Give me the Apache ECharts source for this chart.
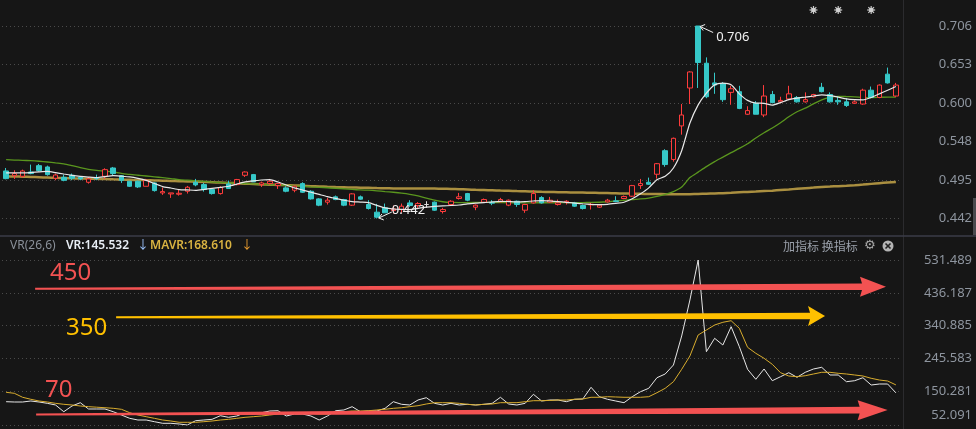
<!DOCTYPE html>
<html><head><meta charset="utf-8">
<script src="https://cdn.jsdelivr.net/npm/echarts@6/dist/echarts.min.js"></script>
<style>html,body{margin:0;padding:0;background:#161616;}#c{width:976px;height:429px;}</style>
</head><body><div id="c"></div>
<script>
// ---------- DATA ----------
const priceTicks = [0.442, 0.4948, 0.5476, 0.6004, 0.6532, 0.706];
const priceMin = 0.4180, priceMax = 0.7417;
const vrTicks = [52.091, 150.281, 245.583, 340.885, 436.187, 531.489];
const vrMin = 52.091, vrMax = 531.489;

// [open, close, low, high]
const ohlc = [
[0.5072,0.4967,0.4958,0.5113],[0.5008,0.5036,0.4963,0.5081],[0.4999,0.5072,0.4981,0.5090],[0.5058,0.5036,0.5027,0.5159],
[0.5145,0.5077,0.5063,0.5168],[0.5127,0.5022,0.5008,0.5145],[0.4972,0.5017,0.4945,0.5036],[0.4985,0.4944,0.4931,0.5022],
[0.5013,0.4972,0.4945,0.5036],[0.4985,0.4963,0.4945,0.4999],[0.4917,0.4963,0.4899,0.4990],[0.4981,0.4967,0.4945,0.5022],
[0.4999,0.5090,0.4963,0.5109],[0.5113,0.5036,0.5008,0.5127],[0.5008,0.4944,0.4908,0.5017],[0.4931,0.4862,0.4853,0.4931],
[0.4931,0.4853,0.4839,0.4940],[0.4862,0.4944,0.4862,0.4963],[0.4908,0.4803,0.4789,0.4917],[0.4771,0.4789,0.4744,0.4844],
[0.4757,0.4771,0.4703,0.4771],[0.4753,0.4766,0.4734,0.4826],[0.4794,0.4849,0.4762,0.4867],[0.4917,0.4881,0.4862,0.4963],
[0.4885,0.4817,0.4789,0.4908],[0.4817,0.4762,0.4748,0.4826],[0.4762,0.4844,0.4748,0.4862],[0.4894,0.4831,0.4831,0.4940],
[0.4885,0.4954,0.4876,0.4963],[0.5013,0.5058,0.4990,0.5067],[0.5022,0.4922,0.4922,0.5031],[0.4885,0.4908,0.4853,0.4926],
[0.4899,0.4931,0.4885,0.4963],[0.4872,0.4899,0.4826,0.4908],[0.4840,0.4794,0.4780,0.4862],[0.4808,0.4863,0.4780,0.4872],
[0.4899,0.4780,0.4771,0.4917],[0.4794,0.4689,0.4680,0.4808],[0.4689,0.4603,0.4589,0.4698],[0.4644,0.4671,0.4611,0.4703],
[0.4717,0.4680,0.4671,0.4735],[0.4680,0.4603,0.4589,0.4689],[0.4603,0.4758,0.4593,0.4767],[0.4717,0.4685,0.4676,0.4735],
[0.4612,0.4557,0.4543,0.4671],[0.4507,0.4438,0.4420,0.4621],[0.4566,0.4498,0.4498,0.4625],[0.4529,0.4552,0.4488,0.4598],
[0.4543,0.4589,0.4498,0.4625],[0.4634,0.4598,0.4580,0.4671],[0.4598,0.4625,0.4566,0.4644],[0.4612,0.4612,0.4566,0.4657],
[0.4644,0.4534,0.4525,0.4653],[0.4516,0.4543,0.4488,0.4566],[0.4612,0.4657,0.4598,0.4671],[0.4694,0.4717,0.4680,0.4771],
[0.4762,0.4671,0.4657,0.4771],[0.4575,0.4603,0.4534,0.4612],[0.4644,0.4680,0.4634,0.4694],[0.4639,0.4630,0.4603,0.4671],
[0.4648,0.4680,0.4644,0.4703],[0.4603,0.4671,0.4589,0.4680],[0.4657,0.4612,0.4580,0.4666],[0.4534,0.4612,0.4498,0.4621],
[0.4634,0.4762,0.4625,0.4807],[0.4707,0.4634,0.4625,0.4726],[0.4644,0.4671,0.4634,0.4716],[0.4612,0.4634,0.4598,0.4680],
[0.4644,0.4657,0.4612,0.4671],[0.4634,0.4589,0.4580,0.4648],[0.4598,0.4557,0.4543,0.4612],[0.4607,0.4616,0.4543,0.4634],
[0.4575,0.4603,0.4566,0.4612],[0.4648,0.4671,0.4639,0.4689],[0.4662,0.4653,0.4644,0.4726],[0.4694,0.4721,0.4685,0.4735],
[0.4726,0.4871,0.4717,0.4881],[0.4872,0.4899,0.4826,0.4963],[0.4917,0.4890,0.4881,0.4981],[0.5027,0.5172,0.4967,0.5181],
[0.535,0.516,0.513,0.537],[0.523,0.552,0.520,0.553],[0.569,0.584,0.557,0.599],[0.621,0.643,0.599,0.644],
[0.706,0.656,0.621,0.706],[0.655,0.609,0.607,0.663],[0.628,0.625,0.613,0.642],[0.627,0.605,0.602,0.629],
[0.615,0.620,0.598,0.624],[0.616,0.593,0.592,0.624],[0.585,0.590,0.584,0.596],[0.600,0.585,0.585,0.603],
[0.584,0.610,0.581,0.625],[0.612,0.601,0.600,0.617],[0.602,0.604,0.600,0.609],[0.606,0.613,0.605,0.624],
[0.608,0.602,0.601,0.610],[0.602,0.605,0.601,0.615],[0.609,0.612,0.608,0.613],[0.622,0.616,0.615,0.628],
[0.612,0.602,0.601,0.615],[0.604,0.602,0.598,0.609],[0.602,0.597,0.595,0.607],[0.600,0.602,0.599,0.604],
[0.599,0.618,0.598,0.620],[0.618,0.608,0.607,0.623],[0.608,0.625,0.607,0.626],[0.640,0.628,0.627,0.649],
[0.610,0.625,0.609,0.628]
];

const ma5 = [
0.5045,0.5045,0.5045,0.5050,0.5060,0.5067,0.5050,0.5030,0.5012,0.4998,0.4988,0.4980,0.4995,0.5008,0.5000,0.4990,
0.4970,0.4942,0.4900,0.4858,0.4838,0.4817,0.4812,0.4807,0.4818,0.4833,0.4848,0.4862,0.4892,0.4922,0.4935,0.4948,
0.4952,0.4920,0.4880,0.4840,0.4810,0.4780,0.4750,0.4720,0.4695,0.4670,0.4652,0.4645,0.4637,0.4600,0.4565,0.4550,
0.4545,0.4543,0.4560,0.4575,0.4585,0.4592,0.4598,0.4605,0.4620,0.4630,0.4637,0.4648,0.4656,0.4652,0.4648,0.4652,
0.4660,0.4666,0.4660,0.4652,0.4642,0.4630,0.4622,0.4615,0.4611,0.4615,0.4628,0.4643,0.4690,0.4758,0.4840,0.4953,
0.4998,0.5113,0.5350,0.5729,0.5979,0.6139,0.6253,0.6276,0.6253,0.6130,0.6040,0.6003,0.6000,0.5975,0.6010,0.6050,
0.6072,0.6085,0.6100,0.6116,0.6105,0.6085,0.6060,0.6050,0.6048,0.6080,0.6130,0.6180,0.6230
];
const ma20 = [
0.5227,0.5222,0.5218,0.5213,0.5205,0.5195,0.5182,0.5170,0.5145,0.5118,0.5095,0.5080,0.5070,0.5058,0.5040,0.5024,
0.5013,0.5003,0.4992,0.4980,0.4968,0.4953,0.4945,0.4937,0.4929,0.4920,0.4914,0.4909,0.4905,0.4900,0.4895,0.4890,
0.4885,0.4880,0.4873,0.4866,0.4860,0.4853,0.4848,0.4842,0.4835,0.4828,0.4820,0.4812,0.4808,0.4800,0.4790,0.4780,
0.4768,0.4752,0.4730,0.4700,0.4672,0.4650,0.4640,0.4638,0.4638,0.4640,0.4642,0.4640,0.4638,0.4636,0.4635,0.4635,
0.4636,0.4636,0.4636,0.4636,0.4637,0.4638,0.4639,0.4640,0.4643,0.4650,0.4660,0.4670,0.4680,0.4688,0.4700,0.4722,
0.4750,0.4789,0.4851,0.4981,0.5056,0.5131,0.5200,0.5261,0.5323,0.5381,0.5446,0.5524,0.5596,0.5661,0.5733,0.5815,
0.5884,0.5934,0.5993,0.6048,0.6082,0.6096,0.6093,0.6089,0.6082,0.6079,0.6082,0.6085,0.6085
];
const ma60 = [
0.4998,0.4996,0.4993,0.4990,0.4986,0.4982,0.4978,0.4975,0.4971,0.4968,0.4966,0.4964,0.4962,0.4958,0.4954,0.4951,
0.4948,0.4945,0.4942,0.4938,0.4935,0.4931,0.4928,0.4925,0.4921,0.4917,0.4913,0.4908,0.4903,0.4898,0.4893,0.4888,
0.4884,0.4880,0.4876,0.4873,0.4870,0.4864,0.4860,0.4855,0.4851,0.4848,0.4845,0.4843,0.4841,0.4838,0.4835,0.4832,
0.4830,0.4830,0.4830,0.4830,0.4830,0.4829,0.4825,0.4822,0.4818,0.4814,0.4811,0.4807,0.4803,0.4800,0.4796,0.4793,
0.4790,0.4786,0.4783,0.4781,0.4779,0.4777,0.4775,0.4773,0.4771,0.4769,0.4766,0.4763,0.4760,0.4758,0.4757,0.4755,
0.4754,0.4753,0.4752,0.4754,0.4757,0.4760,0.4764,0.4768,0.4773,0.4779,0.4785,0.4790,0.4796,0.4802,0.4810,0.4818,
0.4828,0.4836,0.4844,0.4852,0.4858,0.4864,0.4870,0.4877,0.4885,0.4895,0.4905,0.4914,0.4922
];

const vr = [
119.8,118.9,118.9,121.8,118.9,115.1,110.2,90.7,107.3,116.9,98.6,98.6,98.6,90.7,81.1,71.5,
66.6,66.6,61.7,57.0,57.0,55.0,52.1,64.6,66.6,68.6,79.1,74.4,78.2,87.8,84.0,87.8,
92.8,93.6,78.2,84.0,84.0,78.2,66.6,78.2,93.6,95.7,105.3,90.7,92.8,92.8,100.6,119.8,
112.2,110.2,124.7,131.4,115.1,110.2,115.1,110.2,112.2,110.2,112.2,115.1,132.6,113.1,110.2,115.1,
141.3,121.8,124.7,124.7,119.8,126.8,127.6,161.6,134.3,126.8,121.8,116.9,134.3,148.8,158.7,189.5,
200.3,226.4,310.7,415.3,531.489,265.1,304.0,284.5,337.7,279.6,213.9,184.9,214.8,180.8,192.4,204.0,
190.7,205.2,214.8,219.7,197.4,197.4,177.9,180.8,189.5,168.3,171.2,171.2,145.532
];
const mavr = [
147.1,144.2,132.6,126.8,121.8,118.9,115.1,112.2,110.2,107.3,105.3,103.8,102.3,100.6,97.7,87.8,
81.1,76.2,71.5,66.6,63.7,59.9,59.9,59.9,61.7,63.7,66.6,68.6,71.5,74.4,76.2,78.2,
81.1,84.0,86.1,86.9,87.8,86.1,84.0,84.0,87.8,90.7,92.8,92.8,93.6,95.7,97.7,100.6,
102.3,105.3,108.2,113.1,116.9,116.9,116.9,115.1,112.2,110.2,112.2,113.1,116.9,117.0,117.0,119.8,
122.7,122.7,123.5,124.7,124.7,126.8,127.6,132.6,132.6,134.3,133.5,132.6,132.6,132.6,134.3,145.9,
158.7,177.9,213.9,252.6,313.6,328.1,342.6,350.5,355.1,333.0,277.8,260.4,245.9,228.4,204.0,194.5,
192.4,195.3,200.3,205.2,205.2,202.3,200.3,197.4,194.5,187.8,182.8,179.9,168.610
];

const categories = ohlc.map((d, i) => 'K' + (i + 1));
const extremes = [[84, 0.706], [45, 0.442]];         // [candle index, price]
const eventMarks = [98, 101, 105];                   // candle indexes with event markers
const guideLabels = ['450', '350', '70'];
const guideStartVals = [448.1, 365.0, 82.6];
const guideEndVals = [453.9, 368.8, 95.7];

// ---------- STYLE / LAYOUT CONFIG ----------
const BG = '#161616';
const UP = '#ff3c3c', DOWN = '#36c8c8';
const FONT = '"Noto Sans","Noto Sans CJK SC",sans-serif';
const guideGeom = [
  {from: 3.52, to: 106.8, head: 26, color: '#f35252', ldx: 15, ldy: -15.5},
  {from: 13.35, to: 99.4, head: 17, color: '#ffc000', ldx: -50, ldy: 10.7},
  {from: 3.64, to: 107.0, head: 30, color: '#f35252', ldx: 9, ldy: -24.5}
];

const chart = echarts.init(document.getElementById('c'));

function posAt(api, pos, val) {
  const f = Math.floor(pos);
  const c = api.coord([f, val]);
  const bw = api.size([1, 0])[0];
  return [c[0] + (pos - f) * bw, c[1]];
}

const candleData = ohlc.map(d => (d[0] === d[1])
  ? {value: d, itemStyle: {color: '#e0e0e0', color0: '#e0e0e0', borderColor: '#e0e0e0', borderColor0: '#e0e0e0'}}
  : d);

const option = {
  backgroundColor: BG,
  animation: false,
  grid: [
    {left: 2, right: 76, top: 0, height: 236},
    {left: 2, right: 76, top: 260, bottom: 4}
  ],
  xAxis: [
    {type: 'category', data: categories, gridIndex: 0, boundaryGap: true, axisLine: {show: false}, axisTick: {show: false}, axisLabel: {show: false}, splitLine: {show: false}},
    {type: 'category', data: categories, gridIndex: 1, boundaryGap: true, axisLine: {show: false}, axisTick: {show: false}, axisLabel: {show: false}, splitLine: {show: false}}
  ],
  yAxis: [
    {type: 'value', gridIndex: 0, position: 'right', min: priceMin, max: priceMax,
      axisLine: {show: false}, axisTick: {show: false, customValues: priceTicks},
      axisLabel: {customValues: priceTicks, formatter: v => v.toFixed(3), color: '#8e959f', fontSize: 13, fontFamily: FONT, margin: 72, align: 'right'},
      splitLine: {show: true, lineStyle: {color: '#4a4a4a', type: [1, 3], width: 1}}},
    {type: 'value', gridIndex: 1, position: 'right', min: vrMin, max: vrMax,
      axisLine: {show: false}, axisTick: {show: false, customValues: vrTicks},
      axisLabel: {customValues: vrTicks, color: '#8e959f', fontSize: 13, fontFamily: FONT, margin: 72, align: 'right',
        formatter: v => Math.abs(v - vrMin) < 1e-6 ? '{lo|' + v.toFixed(3) + '}' : v.toFixed(3),
        rich: {lo: {color: '#8e959f', fontSize: 13, fontFamily: FONT, padding: [0, 0, 20, 0]}}},
      splitLine: {show: true, lineStyle: {color: '#4a4a4a', type: [1, 3], width: 1}}}
  ],
  series: [
    {type: 'line', name: 'MA60', data: ma60, xAxisIndex: 0, yAxisIndex: 0, symbol: 'none', smooth: 0.2,
      lineStyle: {color: 'rgba(196,164,72,0.85)', width: 2.5}, z: 2},
    {type: 'line', name: 'MA20', data: ma20, xAxisIndex: 0, yAxisIndex: 0, symbol: 'none', smooth: 0.2,
      lineStyle: {color: '#5a961e', width: 1.3}, z: 2},
    {type: 'candlestick', name: 'K', data: candleData, xAxisIndex: 0, yAxisIndex: 0, barWidth: 5,
      itemStyle: {color: BG, color0: DOWN, borderColor: UP, borderColor0: DOWN, borderWidth: 1}, z: 3},
    {type: 'line', name: 'MA5', data: ma5, xAxisIndex: 0, yAxisIndex: 0, symbol: 'none', smooth: 0.2,
      lineStyle: {color: '#e8e8e8', width: 1.2}, z: 4},
    {type: 'custom', name: 'extremes', xAxisIndex: 0, yAxisIndex: 0, data: extremes, z: 6,
      renderItem: (params, api) => {
        const p = api.coord([api.value(0), api.value(1)]);
        const top = params.dataIndex === 0;
        const d = top ? 1 : -1;
        const x0 = p[0] + 2, y0 = p[1] + d * 0.5;
        const x1 = p[0] + 15, y1 = p[1] + d * 6.5;
        return {type: 'group', children: [
          {type: 'line', shape: {x1: x0, y1: y0, x2: x1, y2: y1}, style: {stroke: '#f0f0f0', lineWidth: 1}},
          {type: 'polyline', shape: {points: [[x0 + 5, y0 - 2.5 * d + 0.5 * d], [x0, y0], [x0 + 3, y0 + 4 * d]]}, style: {stroke: '#f0f0f0', lineWidth: 1, fill: null}},
          {type: 'text', style: {x: p[0] + (top ? 18 : 15), y: p[1] + (top ? 11 : -8), text: api.value(1).toFixed(3),
            fill: '#f0f0f0', font: '13px ' + FONT, verticalAlign: 'middle', align: 'left'}}
        ]};
      }},
    {type: 'custom', name: 'events', xAxisIndex: 0, yAxisIndex: 0, data: eventMarks.map(i => [i, priceMax]), z: 6,
      renderItem: (params, api) => {
        const p = api.coord([api.value(0), api.value(1)]);
        const cx = p[0], cy = params.coordSys.y + 10;
        const rays = [];
        for (let k = 0; k < 8; k++) {
          const a = k * Math.PI / 4;
          rays.push({type: 'line', shape: {x1: cx, y1: cy, x2: cx + Math.cos(a) * 4, y2: cy + Math.sin(a) * 4}, style: {stroke: '#c8c8c8', lineWidth: 1.2}});
        }
        rays.push({type: 'circle', shape: {cx: cx, cy: cy, r: 2.3}, style: {fill: '#d0d0d0'}});
        return {type: 'group', children: rays};
      }},
    {type: 'line', name: 'VR', data: vr, xAxisIndex: 1, yAxisIndex: 1, symbol: 'none',
      lineStyle: {color: '#e6e6e6', width: 1}, z: 3},
    {type: 'line', name: 'MAVR', data: mavr, xAxisIndex: 1, yAxisIndex: 1, symbol: 'none',
      lineStyle: {color: '#d9ad2e', width: 1}, z: 3},
    {type: 'custom', name: 'guides', xAxisIndex: 1, yAxisIndex: 1, z: 8, clip: false,
      data: guideStartVals.map((v, i) => [Math.floor(guideGeom[i].from), v]),
      renderItem: (params, api) => {
        const k = params.dataIndex;
        const g = guideGeom[k];
        const s = posAt(api, g.from, guideStartVals[k]);
        const e = posAt(api, g.to, guideEndVals[k]);
        const hbx = e[0] - g.head;
        const t = (hbx - s[0]) / (e[0] - s[0]);
        const hby = s[1] + (e[1] - s[1]) * t;
        const t0 = 1, t1 = 3.3, H = 10;
        const pts = [[s[0], s[1] - t0], [hbx + 2, hby - t1], [hbx, hby - H], [e[0], e[1]], [hbx, hby + H], [hbx + 2, hby + t1], [s[0], s[1] + t0]];
        return {type: 'group', children: [
          {type: 'polygon', shape: {points: pts}, style: {fill: g.color}},
          {type: 'text', style: {x: s[0] + g.ldx, y: s[1] + g.ldy, text: guideLabels[k], fill: g.color,
            font: '24px ' + FONT, verticalAlign: 'middle', align: 'left'}}
        ]};
      }}
  ],
  graphic: [
    {type: 'line', shape: {x1: 903.5, y1: 0, x2: 903.5, y2: 429}, style: {stroke: '#2b2b2e', lineWidth: 1}, silent: true},
    {type: 'line', shape: {x1: 0, y1: 236, x2: 976, y2: 236}, style: {stroke: '#3b3d48', lineWidth: 1.5}, silent: true},
    {type: 'rect', shape: {x: 973, y: 198, width: 3, height: 37}, style: {fill: '#4a4a4e'}, silent: true},
    {type: 'text', x: 10, y: 246, style: {text: 'VR(26,6)', fill: '#8a9099', font: '12px ' + FONT, verticalAlign: 'middle'}},
    {type: 'text', x: 66, y: 246, style: {text: 'VR:' + vr[vr.length - 1].toFixed(3), fill: '#e8eef5', font: '600 12px ' + FONT, verticalAlign: 'middle'}},
    {type: 'text', x: 137, y: 246, style: {text: '↓', fill: '#9cc4ff', font: '12px ' + FONT, verticalAlign: 'middle'}},
    {type: 'text', x: 150, y: 246, style: {text: 'MAVR:' + mavr[mavr.length - 1].toFixed(3), fill: '#d9b341', font: '600 12px ' + FONT, verticalAlign: 'middle'}},
    {type: 'text', x: 241, y: 246, style: {text: '↓', fill: '#f0a030', font: '12px ' + FONT, verticalAlign: 'middle'}},
    {type: 'text', x: 783, y: 246, style: {text: '加指标 换指标', fill: '#9aa0aa', font: '12px "Noto Sans CJK SC",sans-serif', verticalAlign: 'middle'}},
    {type: 'text', x: 864, y: 246, style: {text: '⚙', fill: '#a8a8a8', font: '13px "DejaVu Sans",sans-serif', verticalAlign: 'middle'}},
    {type: 'circle', shape: {cx: 888, cy: 246, r: 5.5}, style: {fill: '#b4b4b4'}},
    {type: 'line', shape: {x1: 885.5, y1: 243.5, x2: 890.5, y2: 248.5}, style: {stroke: '#222', lineWidth: 1.6}},
    {type: 'line', shape: {x1: 890.5, y1: 243.5, x2: 885.5, y2: 248.5}, style: {stroke: '#222', lineWidth: 1.6}}
  ]
};
chart.setOption(option);
</script>
</body></html>
